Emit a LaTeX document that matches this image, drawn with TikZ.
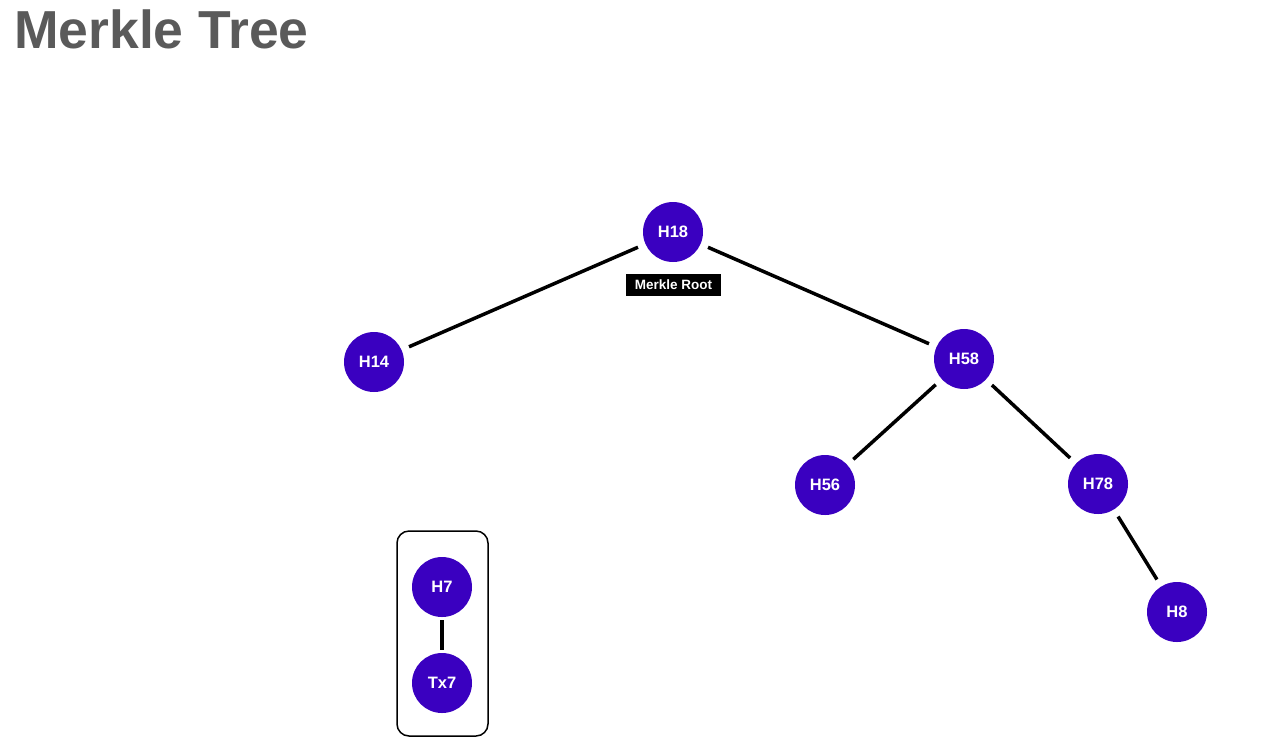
\documentclass[tikz,border=0pt]{standalone}
\usepackage{fontspec}
\setmainfont{Liberation Sans}
\definecolor{hashpurple}{RGB}{58,0,192}
\definecolor{titlegray}{RGB}{90,90,90}
\begin{document}
\begin{tikzpicture}[x=1pt,y=-1pt,
  hashnode/.style={circle,fill=hashpurple,minimum size=60pt,inner sep=0pt,text=white,font=\fontsize{16.5}{16.5}\selectfont\bfseries},
  edge/.style={line width=3.5pt,black,shorten <=8pt,shorten >=8pt},
  tag/.style={fill=black,text=white,font=\fontsize{13.5}{13.5}\selectfont\bfseries,minimum width=95pt,minimum height=22pt,inner sep=0pt}]
\useasboundingbox (0,0) rectangle (1268,748);
\node[anchor=base west,text=titlegray,font=\fontsize{53.5}{53.5}\selectfont\bfseries,inner sep=0pt] (title) at (14,48) {Merkle Tree};
\node[hashnode] (H18) at (673,232) {H18};
\node[tag] (root) at (673.5,285) {Merkle Root};
\node[hashnode] (H14) at (374,362) {H14};
\node[hashnode] (H58) at (964,359) {H58};
\node[hashnode] (H56) at (825,485) {H56};
\node[hashnode] (H78) at (1098,484) {H78};
\node[hashnode] (H8) at (1177,612) {H8};
\node[hashnode] (H7) at (442,587) {H7};
\node[hashnode] (Tx7) at (442,683) {Tx7};
\node[draw,line width=1.5pt,rounded corners=12pt,minimum width=91pt,minimum height=205pt,inner sep=0pt] (box) at (442.5,633.5) {};
\draw[edge] (H18) -- (H14);
\draw[edge] (H18) -- (H58);
\draw[edge] (H58) -- (H56);
\draw[edge] (H58) -- (H78);
\draw[edge] (H78) -- (H8);
\draw[edge,shorten <=3pt,shorten >=3pt] (H7) -- (Tx7);
\end{tikzpicture}
\end{document}
